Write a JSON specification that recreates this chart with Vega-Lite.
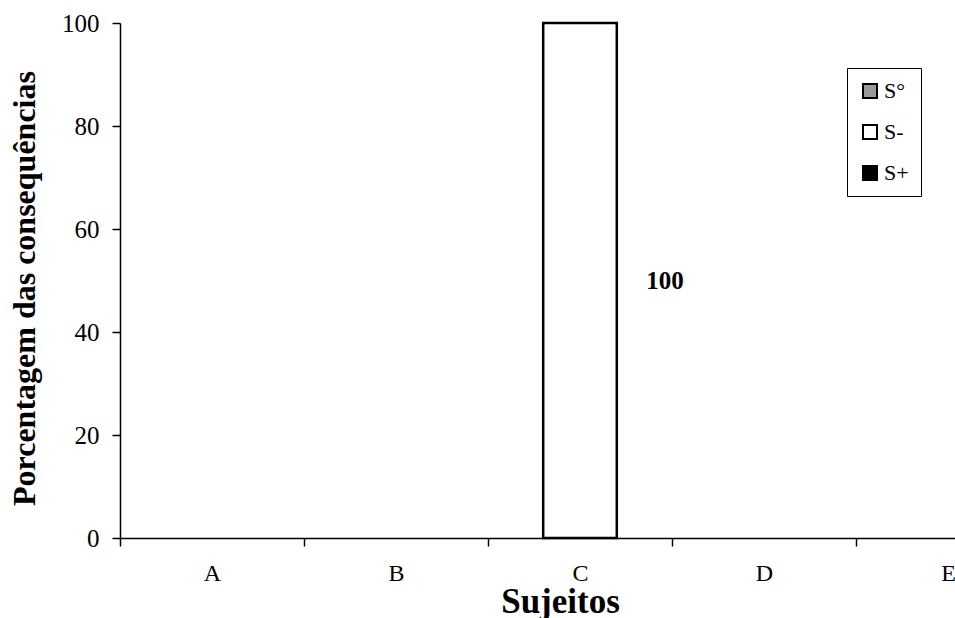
{
  "$schema": "https://vega.github.io/schema/vega-lite/v6.json",
  "autosize": "none",
  "width": 835,
  "height": 515,
  "padding": {"left": 120, "top": 23, "right": 0, "bottom": 80},
  "background": "white",
  "config": {
    "view": {"stroke": null},
    "font": "Liberation Serif",
    "axis": {
      "domainColor": "black",
      "domainWidth": 1.5,
      "tickColor": "black",
      "tickWidth": 1.5,
      "tickSize": 8,
      "labelColor": "black",
      "titleColor": "black",
      "grid": false
    },
    "legend": {
      "labelFont": "Liberation Serif, serif",
      "labelFontSize": 22,
      "labelColor": "black"
    }
  },
  "data": {
    "values": [
      {"Sujeito": "A", "Consequencia": "S°", "value": 0},
      {"Sujeito": "A", "Consequencia": "S-", "value": 0},
      {"Sujeito": "A", "Consequencia": "S+", "value": 0},
      {"Sujeito": "B", "Consequencia": "S°", "value": 0},
      {"Sujeito": "B", "Consequencia": "S-", "value": 0},
      {"Sujeito": "B", "Consequencia": "S+", "value": 0},
      {"Sujeito": "C", "Consequencia": "S°", "value": 0},
      {"Sujeito": "C", "Consequencia": "S-", "value": 100},
      {"Sujeito": "C", "Consequencia": "S+", "value": 0},
      {"Sujeito": "D", "Consequencia": "S°", "value": 0},
      {"Sujeito": "D", "Consequencia": "S-", "value": 0},
      {"Sujeito": "D", "Consequencia": "S+", "value": 0},
      {"Sujeito": "E", "Consequencia": "S°", "value": 0},
      {"Sujeito": "E", "Consequencia": "S-", "value": 0},
      {"Sujeito": "E", "Consequencia": "S+", "value": 0}
    ]
  },
  "encoding": {
    "x": {
      "field": "Sujeito",
      "type": "nominal",
      "scale": {"range": [0, 920], "paddingInner": 0, "paddingOuter": 0},
      "axis": {
        "labelAngle": 0,
        "labelFontSize": 24,
        "labelPadding": 15,
        "tickBand": "extent",
        "title": "Sujeitos",
        "titleFontSize": 35,
        "titleFontWeight": "bold",
        "titleX": 440,
        "titleY": 74,
        "titleBaseline": "alphabetic"
      }
    }
  },
  "layer": [
    {
      "mark": {"type": "bar", "stroke": "black", "width": {"band": 0.4}},
      "encoding": {
        "y": {
          "field": "value",
          "type": "quantitative",
          "stack": true,
          "scale": {"domain": [0, 100]},
          "axis": {
            "values": [0, 20, 40, 60, 80, 100],
            "labelFontSize": 25,
            "labelPadding": 13,
            "title": "Porcentagem das consequências",
            "titleFontSize": 32,
            "titleFontWeight": "bold",
            "titleX": -96,
            "titleY": 265,
            "titleBaseline": "middle",
            "titleAlign": "center"
          }
        },
        "color": {
          "field": "Consequencia",
          "type": "nominal",
          "scale": {"domain": ["S°", "S-", "S+"], "range": ["#999999", "#ffffff", "#000000"]},
          "legend": {
            "title": null,
            "orient": "none",
            "legendX": 727,
            "legendY": 45,
            "strokeColor": "black",
            "fillColor": "white",
            "padding": 12,
            "rowPadding": 19,
            "symbolType": "square",
            "symbolSize": 196,
            "symbolStrokeColor": "black",
            "symbolStrokeWidth": 2,
            "labelFont": "Liberation Serif, serif",
            "labelFontSize": 22,
            "labelOffset": 3
          }
        },
        "strokeWidth": {
          "condition": {"test": "datum.value > 0", "value": 2.5},
          "value": 0
        }
      }
    },
    {
      "transform": [
        {"filter": "datum.value > 0"},
        {"calculate": "datum.value / 2", "as": "mid"}
      ],
      "mark": {"type": "text", "dx": 85, "fontSize": 25, "fontWeight": "bold", "color": "black", "baseline": "middle"},
      "encoding": {
        "y": {"field": "mid", "type": "quantitative"},
        "text": {"field": "value", "type": "quantitative"}
      }
    }
  ]
}
